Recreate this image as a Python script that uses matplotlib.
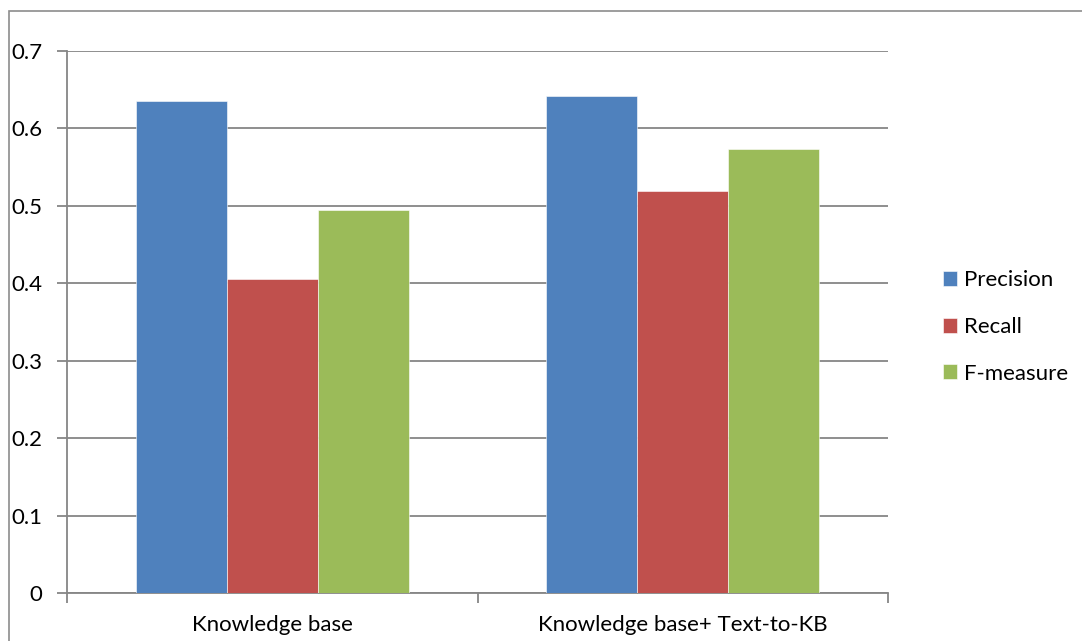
import matplotlib.pyplot as plt
import matplotlib.patches as mpatches
import numpy as np

categories = ['Knowledge base', 'Knowledge base+ Text-to-KB']
series = ['Precision', 'Recall', 'F-measure']
precision = [0.635, 0.642]
recall = [0.406, 0.519]
fmeasure = [0.495, 0.573]
colors = ['#4f81bd', '#c0504d', '#9bbb59']

plt.rcParams['font.family'] = ['Lato', 'DejaVu Sans']

W, H = 1082, 641
fig = plt.figure(figsize=(W / 100, H / 100), dpi=100)
ax = fig.add_axes([67 / W, (H - 593) / H, (888 - 67) / W, (593 - 51) / H])

# outer chart border
fig.patches.append(mpatches.Rectangle((9 / W, -0.01), 1.0, (H - 11) / H + 0.01,
                                      transform=fig.transFigure, fill=False,
                                      edgecolor='#8c8c8c', linewidth=1.2))

x = np.arange(len(categories))
w = 0.2217
for i, (vals, name) in enumerate(zip([precision, recall, fmeasure], series)):
    ax.bar(x + (i - 1) * w, vals, w, color=colors[i], label=name,
           edgecolor='white', linewidth=0.4, zorder=3)

grid_c = '#868686'
fs = 16
ax.set_ylim(0, 0.7)
ax.set_xlim(-0.5, 1.5)
ax.set_yticks(np.arange(0, 0.71, 0.1))
ax.set_yticklabels(['0', '0.1', '0.2', '0.3', '0.4', '0.5', '0.6', '0.7'])
ax.yaxis.grid(True, color=grid_c, linewidth=1.3, zorder=0)
ax.set_xticks(x)
ax.set_xticklabels(categories)
ax.set_xticks([-0.5, 0.5, 1.5], minor=True)
ax.tick_params(axis='x', which='major', length=0, pad=16, labelsize=fs)
ax.tick_params(axis='x', which='minor', length=7, color=grid_c, width=1.3)
ax.tick_params(axis='y', length=7, color=grid_c, width=1.3, pad=11, labelsize=fs)

for s in ['top', 'right']:
    ax.spines[s].set_visible(False)
for s in ['left', 'bottom']:
    ax.spines[s].set_color(grid_c)
    ax.spines[s].set_linewidth(1.3)

ax.legend(loc='center left', bbox_to_anchor=(943 / W, (H - 327) / H),
          bbox_transform=fig.transFigure, frameon=False, fontsize=fs,
          borderpad=0, borderaxespad=0, handlelength=0.65, handleheight=0.65,
          handletextpad=0.3, labelspacing=1.2)

fig.savefig('out.png', dpi=100)
